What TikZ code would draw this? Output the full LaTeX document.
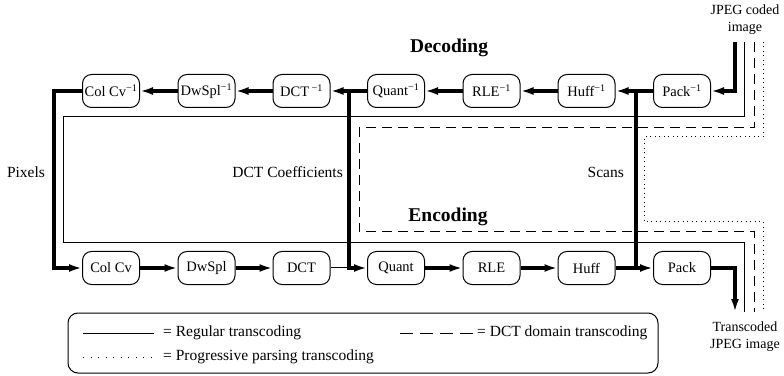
\documentclass[tikz,border=0pt]{standalone}
\usepackage{fontspec}
\setmainfont{Liberation Serif}
\usetikzlibrary{arrows.meta}
\newcommand\inv{\textsuperscript{−1}}

\begin{document}
\begin{tikzpicture}[x=1pt,y=1pt,
  blk/.style={draw,line width=1pt,rounded corners=9pt,minimum width=57pt,
    minimum height=33pt,inner sep=1pt,font=\fontsize{14.5}{16}\selectfont},
  flow/.style={line width=4pt,-{Latex[length=13pt,width=8pt]}},
  bus/.style={line width=4pt,line cap=rect},
  lab/.style={font=\fontsize{15.5}{17}\selectfont,inner sep=0pt},
  title/.style={font=\fontsize{19.5}{22}\selectfont\bfseries},
  reg/.style={line width=1pt},
  dctdom/.style={line width=1pt,dash pattern=on 10pt off 6pt},
  prog/.style={line width=1pt,dash pattern=on 1pt off 3.5pt}]
  \useasboundingbox (0,0) rectangle (784,375);
  \def\yt{284}\def\yb{107}
  % decoding row
  \node[blk] (colinv) at (111,\yt) {Col Cv\inv};
  \node[blk] (dwinv) at (206.5,\yt) {DwSpl\inv};
  \node[blk] (dctinv) at (301.5,\yt) {DCT\,\inv};
  \node[blk] (quantinv) at (396,\yt) {Quant\inv};
  \node[blk] (rleinv) at (491.5,\yt) {RLE\inv};
  \node[blk] (huffinv) at (586.5,\yt) {Huff\inv};
  \node[blk] (packinv) at (682,\yt) {Pack\inv};
  % encoding row
  \node[blk] (col) at (111,\yb) {Col Cv};
  \node[blk] (dw) at (206.5,\yb) {DwSpl};
  \node[blk] (dct) at (301.5,\yb) {DCT};
  \node[blk] (quant) at (396,\yb) {Quant};
  \node[blk] (rle) at (491.5,\yb) {RLE};
  \node[blk] (huff) at (586.5,\yb) {Huff};
  \node[blk] (pack) at (682,\yb) {Pack};
  \coordinate (jl) at (54,\yt);
  \coordinate (jdct) at (349,\yt); \coordinate (jdctb) at (349,\yb);
  \coordinate (jhuff) at (636,\yt); \coordinate (jhuffb) at (636,\yb);
  \coordinate (jin) at (735,333); \coordinate (jout) at (735,63);
  % transcoding paths
  \draw[reg] (744,333) |- (63,258) |- (744,132) -- (744,63);
  \draw[dctdom] (754,333) |- (359,247) |- (754,143) -- (754,63);
  \draw[prog] (763,333) |- (644,238) |- (763,153) -- (763,63);
  % data flow
  \draw[flow] (jin) |- (packinv);
  \draw[flow] (packinv) -- (huffinv);
  \draw[flow] (huffinv) -- (rleinv);
  \draw[flow] (rleinv) -- (quantinv);
  \draw[flow] (quantinv) -- (dctinv);
  \draw[flow] (dctinv) -- (dwinv);
  \draw[flow] (dwinv) -- (colinv);
  \draw[flow] (colinv) -- (jl) |- (col);
  \draw[flow] (col) -- (dw);
  \draw[flow] (dw) -- (dct);
  \draw[reg] (dct) -- (jdctb);
  \draw[flow] (jdctb) -- (quant);
  \draw[flow] (quant) -- (rle);
  \draw[flow] (rle) -- (huff);
  \draw[flow] (huff) -- (pack);
  \draw[flow] (pack) -| (jout);
  \draw[bus] (jdct) -- (jdctb);
  \draw[bus] (jhuff) -- (jhuffb);
  % labels
  \node[title] (dec) at (449,327) {Decoding};
  \node[title] (enc) at (448,158) {Encoding};
  \node[lab] (pix) at (26,203) {Pixels};
  \node[lab,anchor=east] (coef) at (343,203) {DCT Coefficients};
  \node[lab,anchor=east] (scans) at (624,203) {Scans};
  \node[lab,align=center,font=\fontsize{14}{17}\selectfont] (src) at (745,355) {JPEG coded\\image};
  \node[lab,align=center,font=\fontsize{14}{17}\selectfont] (dst) at (745,38) {Transcoded\\JPEG image};
  % legend
  \node[draw,line width=1pt,rounded corners=10pt,minimum width=590pt,minimum height=60pt] (legend) at (363,32) {};
  \draw[reg] (83,42) -- (154,42);
  \draw[prog,dash pattern=on 1pt off 6.5pt] (83,18) -- (154,18);
  \draw[dctdom,dash pattern=on 13pt off 7pt] (400,42) -- (473,42);
  \node[lab,anchor=west] (lreg) at (163,42) {= Regular transcoding};
  \node[lab,anchor=west] (lprog) at (163,18) {= Progressive parsing transcoding};
  \node[lab,anchor=west] (ldct) at (477,42) {= DCT domain transcoding};
\end{tikzpicture}
\end{document}
